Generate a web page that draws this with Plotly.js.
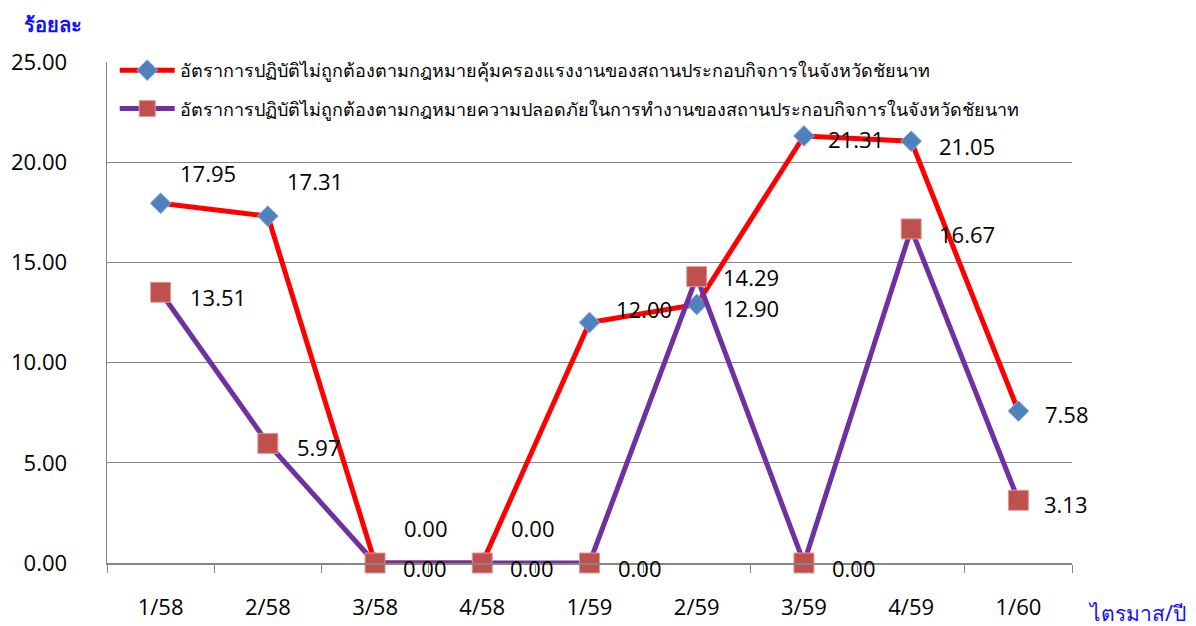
<!DOCTYPE html>
<html>
<head>
<meta charset="utf-8">
<script src="https://cdn.plot.ly/plotly-3.0.1.min.js"></script>
<style>html,body{margin:0;padding:0;background:#fff;}#chart{width:1196px;height:626px;}</style>
</head>
<body>
<div id="chart"></div>
<script>
const categories = ['1/58','2/58','3/58','4/58','1/59','2/59','3/59','4/59','1/60'];
const labourName = 'อัตราการปฏิบัติไม่ถูกต้องตามกฎหมายคุ้มครองแรงงานของสถานประกอบกิจการในจังหวัดชัยนาท';
const safetyName = 'อัตราการปฏิบัติไม่ถูกต้องตามกฎหมายความปลอดภัยในการทำงานของสถานประกอบกิจการในจังหวัดชัยนาท';
const labourValues = [17.95, 17.31, 0.00, 0.00, 12.00, 12.90, 21.31, 21.05, 7.58];
const safetyValues = [13.51, 5.97, 0.00, 0.00, 0.00, 14.29, 0.00, 16.67, 3.13];
const yTicks = [0, 5, 10, 15, 20, 25];

// label offsets (pixels) for data labels
const labourShift = [[17,30],[17,35],[27,35],[27,35],[24,14],[24,-4],[22,-3],[26,-5],[25,-3]];
const safetyShift = [[27,-5],[27,-4],[26,-5],[26,-5],[26,-5],[24,0],[26,-5],[26,-5],[24,-4]];

const font = 'Open Sans, Noto Sans, sans-serif';
const annotations = [];
categories.forEach((c, i) => {
  annotations.push({x: c, y: labourValues[i], xref: 'x', yref: 'y', text: labourValues[i].toFixed(2),
    showarrow: false, xanchor: 'left', yanchor: 'middle', xshift: labourShift[i][0], yshift: labourShift[i][1],
    font: {family: font, size: 22, color: '#000'}});
  annotations.push({x: c, y: safetyValues[i], xref: 'x', yref: 'y', text: safetyValues[i].toFixed(2),
    showarrow: false, xanchor: 'left', yanchor: 'middle', xshift: safetyShift[i][0], yshift: safetyShift[i][1],
    font: {family: font, size: 22, color: '#000'}});
});
annotations.push({xref: 'paper', yref: 'paper', x: -0.088, y: 1.075, xanchor: 'left', yanchor: 'middle',
  text: '<b>ร้อยละ</b>', showarrow: false, font: {family: 'Noto Sans, sans-serif', size: 20, color: '#0f0fff'}});
annotations.push({xref: 'paper', yref: 'paper', x: 1.014, y: -0.1, xanchor: 'left', yanchor: 'middle',
  text: 'ไตรมาส/ปี', showarrow: false, font: {family: 'Noto Sans, sans-serif', size: 21, color: '#0f0fff'}});

const traces = [
  {x: categories, y: labourValues, name: labourName, type: 'scatter', mode: 'lines+markers', legendgroup: 'a',
   line: {color: '#ff0000', width: 5},
   marker: {symbol: 'diamond', size: 16, color: '#4f81bd', line: {color: '#8eb0d8', width: 1}}, cliponaxis: false},
  {x: categories, y: safetyValues, name: safetyName, type: 'scatter', mode: 'lines+markers', legendgroup: 'b',
   line: {color: '#7030a0', width: 5},
   marker: {symbol: 'square', size: 20, color: '#c0504d', line: {color: '#dc9a98', width: 1}}, cliponaxis: false}
];

const layout = {
  width: 1196, height: 626,
  margin: {l: 107, r: 124, t: 62, b: 63},
  paper_bgcolor: '#fff', plot_bgcolor: '#fff',
  showlegend: true,
  legend: {x: 0.008, y: 1.02, xanchor: 'left', yanchor: 'top', bgcolor: 'rgba(0,0,0,0)',
    font: {family: 'Noto Sans, sans-serif', size: 18, color: '#000'}, itemwidth: 55,
    traceorder: 'grouped', tracegroupgap: 12},
  xaxis: {type: 'category', range: [-0.5, 8.5], showgrid: false, showline: true, linecolor: '#868686', linewidth: 1.5,
    ticks: 'outside', tickson: 'boundaries', ticklen: 8, tickcolor: '#868686',
    tickfont: {family: font, size: 22, color: '#000'}, ticklabelstandoff: 24, zeroline: false},
  yaxis: {range: [0, 25], tickvals: yTicks, ticktext: yTicks.map(v => v.toFixed(2)), showgrid: true, gridcolor: '#868686', gridwidth: 1,
    showline: true, linecolor: '#868686', linewidth: 1.5, ticks: '', zeroline: false,
    tickfont: {family: font, size: 22, color: '#000'}, ticklabelstandoff: 34},
  annotations: annotations
};

Plotly.newPlot('chart', traces, layout, {displayModeBar: false, staticPlot: true});
</script>
</body>
</html>
